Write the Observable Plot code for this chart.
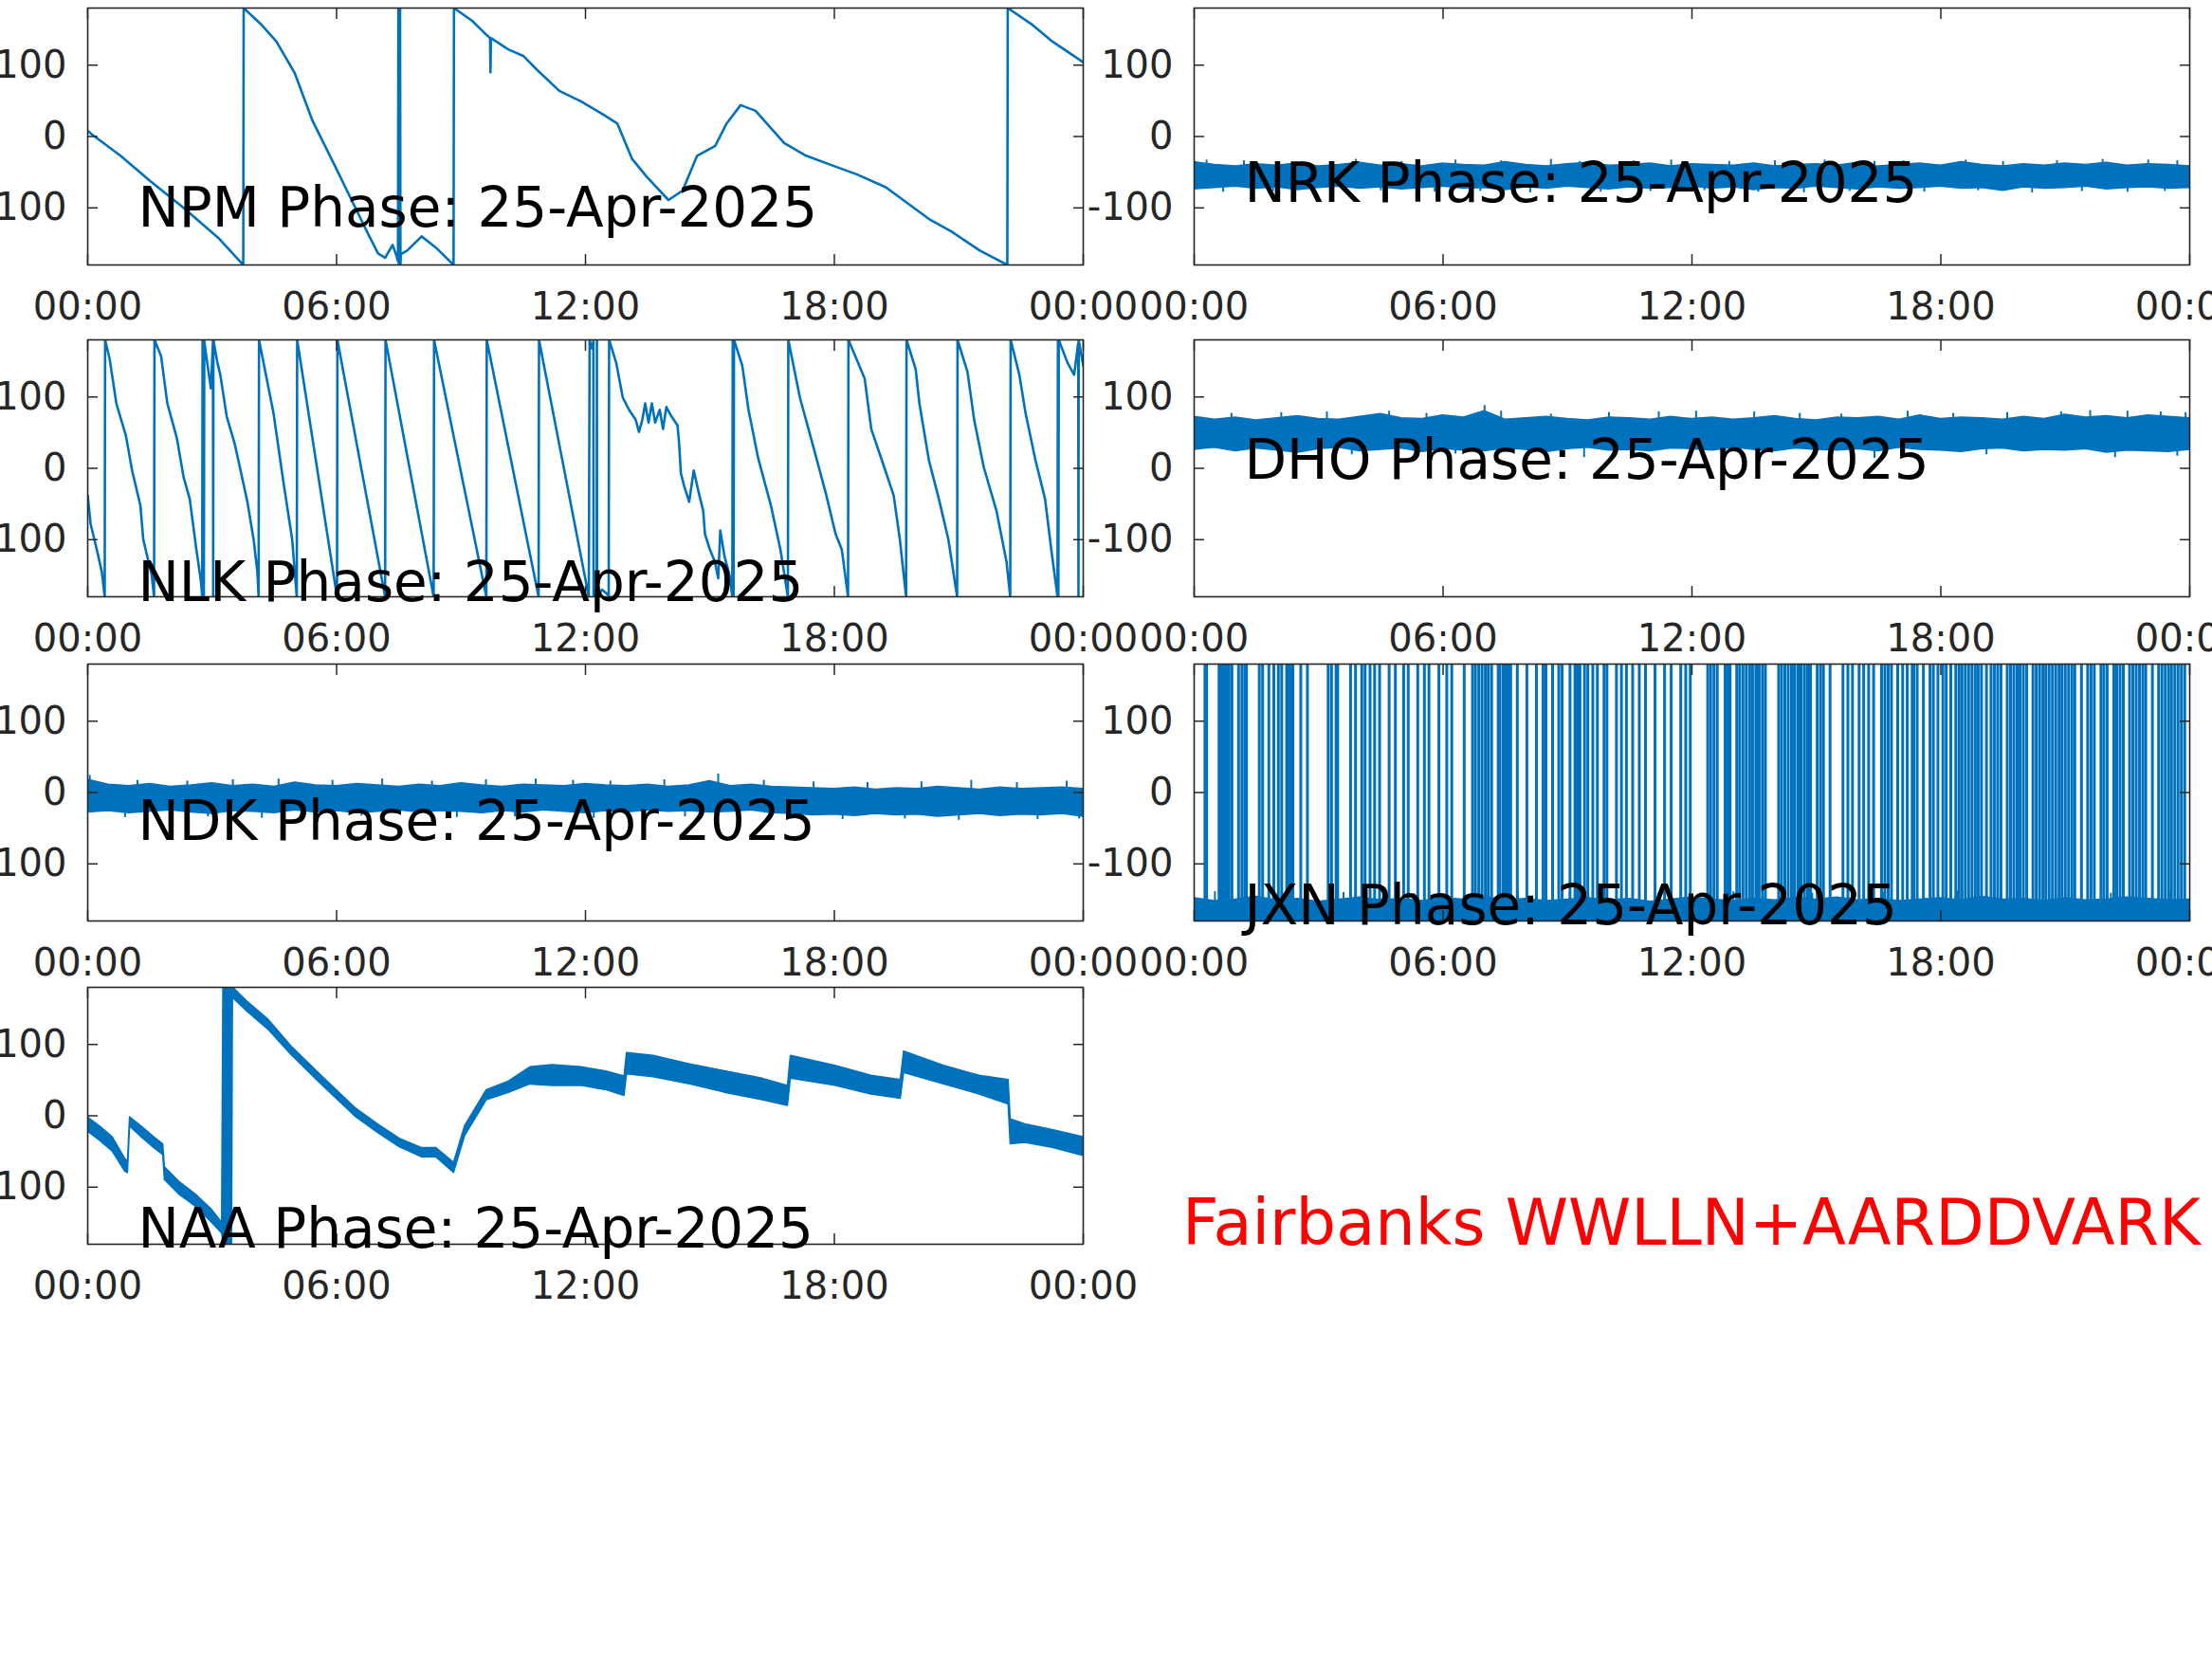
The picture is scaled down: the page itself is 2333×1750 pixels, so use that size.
<!DOCTYPE html>
<html><head><meta charset="utf-8">
<script src="https://cdn.jsdelivr.net/npm/d3@7"></script>
<script src="https://cdn.jsdelivr.net/npm/@observablehq/plot@0.6"></script>
<style>
html,body{margin:0;padding:0;background:#fff;width:2333px;height:1750px;overflow:hidden;position:relative;}
.panel{position:absolute;}
.panel svg{overflow:visible;display:block;}
#note{position:absolute;left:1247px;top:1257px;font-family:"DejaVu Sans";font-size:67px;line-height:66px;color:#ff0000;white-space:nowrap;}
</style></head><body>
<div id="note"></div>
<script>
// ---------------- data ----------------
const dateLabel = "25-Apr-2025";
const stations = ["NPM","NRK","NLK","DHO","NDK","JXN","NAA"];
const titleBaseline = [-126, -92, -186, -15, -67, -185, -184]; // degrees, where each caption sits
const titleHour = 1.21;
const noteText = "Fairbanks WWLLN+AARDDVARK";

const xTickValues = [0, 6, 12, 18, 24];
const xTickLabels = ["00:00","06:00","12:00","18:00","00:00"];
const yTickValues = [-100, 0, 100];

// NPM phase trace (hours UT, degrees)
const npmHour = [0,0.1,0.79,1.5,2.27,3.15,3.75,3.76,4.2,4.55,4.99,5.42,5.95,6.47,6.73,7.0,7.17,7.35,7.45,7.48,7.49,7.5,7.51,7.52,7.53,7.54,7.55,7.7,8.05,8.4,8.82,8.83,9.27,9.62,9.70,9.71,9.72,10.14,10.5,10.84,11.37,11.9,12.42,12.77,13.12,13.47,14.0,14.34,14.69,15.13,15.4,15.74,16.1,16.79,17.32,18.02,18.54,19.24,20.29,20.82,21.51,22.17,22.18,22.74,23.26,24];
const npmPhase = [8,3,-27,-62,-98,-142,-180,180,156,133,89,22,-40,-102,-133,-164,-170,-152,-168,-175,180,-180,180,-180,180,-178,-165,-160,-140,-156,-180,180,162,142,138,90,138,122,113,93,64,49,31,18,-31,-56,-89,-76,-27,-13,18,44,36,-9,-27,-42,-53,-71,-116,-133,-160,-180,180,158,133,104];

// NLK phase trace
const nlkHour = [0,0.07,0.22,0.34,0.41,0.42,0.53,0.69,0.92,1.07,1.27,1.34,1.54,1.60,1.61,1.77,1.92,2.15,2.31,2.46,2.62,2.73,2.76,2.77,2.79,2.80,2.81,2.90,2.97,3.02,3.025,3.03,3.12,3.2,3.35,3.55,3.7,3.85,4.0,4.09,4.12,4.13,4.48,4.70,4.93,5.04,5.05,6.01,6.02,7.17,7.18,8.34,8.35,9.61,9.62,10.87,10.88,12.08,12.10,12.15,12.19,12.195,12.23,12.27,12.275,12.28,12.40,12.56,12.57,12.74,12.9,13.05,13.21,13.29,13.37,13.44,13.52,13.6,13.68,13.79,13.87,13.95,14.07,14.22,14.26,14.3,14.38,14.5,14.61,14.73,14.84,14.88,15.0,15.12,15.2,15.25,15.35,15.47,15.54,15.55,15.57,15.58,15.78,15.93,16.16,16.47,16.7,16.88,16.89,17.17,17.48,17.79,18.03,18.18,18.33,18.34,18.73,18.89,19.2,19.43,19.58,19.73,19.74,19.96,20.05,20.28,20.52,20.75,20.96,20.97,21.21,21.37,21.6,21.91,22.15,22.24,22.25,22.46,22.61,22.85,23.08,23.23,23.38,23.39,23.40,23.41,23.62,23.78,23.88,23.885,23.89,23.95,24];
const nlkPhase = [-38,-78,-114,-145,-180,180,153,91,46,-3,-52,-100,-149,-180,180,157,91,42,-12,-43,-114,-158,-180,180,170,-180,178,140,112,178,-180,180,150,130,73,33,-7,-47,-100,-145,-180,180,77,-12,-100,-180,180,-180,180,-180,180,-180,180,-180,180,-180,180,-180,180,168,178,-180,-172,-178,180,-180,-170,-178,180,148,99,82,68,51,68,91,64,91,64,82,55,86,73,60,33,-7,-25,-47,-3,-34,-60,-92,-114,-131,-154,-87,-123,-149,-180,180,-180,180,144,82,15,-52,-114,-180,180,99,33,-34,-92,-114,-180,180,126,55,2,-38,-100,-180,180,139,91,11,-43,-100,-180,180,135,68,2,-60,-131,-180,180,131,77,11,-43,-114,-180,180,-180,180,148,131,176,-180,180,160,144];

// Noisy stations: half-hourly envelope (low / high) of the phase band
const bandHour = [0,0.5,1,1.5,2,2.5,3,3.5,4,4.5,5,5.5,6,6.5,7,7.5,8,8.5,9,9.5,10,10.5,11,11.5,12,12.5,13,13.5,14,14.5,15,15.5,16,16.5,17,17.5,18,18.5,19,19.5,20,20.5,21,21.5,22,22.5,23,23.5,24];
const nrkHi = [-36,-40,-42,-39,-41,-38,-42,-40,-37,-41,-39,-42,-38,-40,-41,-36,-40,-42,-39,-37,-41,-40,-38,-42,-39,-40,-41,-38,-42,-40,-39,-41,-37,-42,-40,-38,-41,-36,-40,-42,-39,-41,-38,-40,-37,-41,-39,-40,-42];
const nrkLo = [-74,-72,-70,-73,-71,-75,-72,-70,-73,-71,-74,-72,-70,-73,-72,-75,-71,-73,-70,-72,-74,-71,-73,-72,-70,-73,-71,-75,-72,-73,-70,-72,-74,-71,-73,-72,-70,-73,-72,-76,-71,-73,-72,-70,-74,-72,-71,-73,-72];
const dhoHi = [72,68,71,67,70,73,69,68,72,76,70,69,74,71,80,68,70,72,69,67,71,70,68,72,69,71,68,70,73,69,67,71,70,72,68,74,69,71,70,68,72,69,75,71,73,70,74,72,70];
const dhoLo = [26,29,24,28,25,22,27,29,24,26,28,23,27,25,24,28,26,23,27,29,25,26,24,28,27,25,29,26,24,28,26,25,27,24,29,26,25,23,27,28,24,26,25,27,22,25,24,23,26];
const ndkHi = [18,11,9,12,8,10,13,9,11,8,14,10,9,12,10,8,11,9,13,10,8,11,10,9,12,10,9,11,8,10,16,9,11,8,7,6,5,7,4,6,5,8,6,4,7,5,6,7,5];
const ndkLo = [-28,-26,-29,-27,-25,-28,-30,-26,-27,-29,-25,-28,-26,-29,-27,-25,-28,-26,-27,-29,-26,-28,-25,-27,-29,-26,-28,-25,-27,-26,-28,-27,-25,-29,-30,-32,-31,-33,-30,-32,-31,-34,-32,-30,-33,-31,-32,-30,-34];
const jxnHi = [-148,-152,-150,-146,-151,-149,-153,-150,-147,-151,-149,-152,-148,-150,-146,-151,-149,-152,-150,-148,-151,-149,-153,-150,-147,-150,-152,-149,-151,-148,-150,-147,-151,-149,-152,-150,-148,-151,-146,-150,-149,-152,-148,-151,-150,-147,-149,-151,-150];
const jxnLo = -180;

// Individual noise spikes sticking out of each band (hour, peak degrees)
const nrkSpikeHour = [0.3,0.7,1.2,1.9,2.6,3.3,3.9,4.5,5.0,5.8,6.3,6.9,7.4,8.1,8.6,9.3,9.8,10.6,11.0,11.5,12.3,12.9,13.6,14.0,14.7,15.2,15.8,16.4,17.1,17.6,18.6,18.9,19.5,20.2,20.8,21.4,21.9,22.5,23.0,23.4,23.7];
const nrkSpikePeak = [-33,-78,-34,-77,-35,-79,-32,-76,-35,-78,-33,-77,-34,-79,-32,-35,-78,-34,-77,-33,-76,-35,-78,-34,-79,-33,-77,-35,-34,-78,-33,-76,-35,-79,-34,-77,-32,-78,-33,-77,-34];
const dhoSpikeHour = [0.9,1.4,2.1,3.2,3.8,4.7,5.6,6.3,7.0,7.4,8.6,9.4,10.0,11.2,12.1,12.8,13.5,14.6,15.6,16.4,17.2,18.3,19.1,19.6,20.9,21.6,22.2,22.5,23.3,23.7,23.9];
const dhoSpikePeak = [77,16,78,79,19,80,77,20,88,80,76,15,78,79,80,18,79,77,76,14,80,77,19,78,79,81,15,80,79,17,78];
const ndkSpikeHour = [0.05,0.9,1.2,2.4,2.9,3.5,4.2,4.6,5.9,6.6,7.1,8.3,8.9,9.6,10.3,10.8,11.7,12.2,12.6,13.9,14.4,15.2,16.3,16.9,17.5,18.2,18.8,19.7,20.1,21.0,21.3,22.4,22.9,23.6,23.9];
const ndkSpikePeak = [24,-35,17,16,-34,18,-36,19,17,-33,19,16,-35,18,-34,19,17,-36,16,18,-34,26,17,-37,15,-38,14,-37,15,-39,17,14,-38,16,-37];
const jxnSpikeHour = [0.5,1.9,3.6,5.3,7.8,9.5,11.2,13.0,14.9,16.6,18.4,20.3,22.1,23.5];
const jxnSpikePeak = [-139,-141,-140,-142,-139,-141,-140,-139,-141,-140,-138,-140,-141,-139];

// JXN phase wraps (-180 -> +180), hours
const jxnWrapHour = [0.26,0.30,0.60,0.64,0.68,0.72,0.76,0.80,0.84,0.91,1.07,1.15,1.22,1.26,1.57,1.65,1.80,1.92,2.03,2.11,2.23,2.26,2.30,2.34,2.38,2.57,2.73,3.23,3.31,3.42,3.46,3.77,3.89,4.04,4.12,4.24,4.35,4.47,4.70,4.85,5.05,5.16,5.39,5.55,5.66,5.90,6.09,6.21,6.51,6.71,6.78,6.86,6.94,7.02,7.09,7.17,7.33,7.36,7.44,7.48,7.52,7.56,7.59,7.63,7.79,8.02,8.25,8.41,8.48,8.64,8.79,8.87,9.06,9.18,9.22,9.26,9.30,9.41,9.49,9.61,9.72,9.88,9.95,10.18,10.30,10.42,10.57,10.73,10.88,11.11,11.34,11.50,11.73,11.85,11.96,12.38,12.45,12.53,12.61,12.80,12.84,12.88,12.92,13.08,13.15,13.23,13.31,13.39,13.46,13.54,13.58,13.62,13.70,13.77,14.09,14.16,14.24,14.32,14.40,14.47,14.55,14.59,14.63,14.71,14.78,14.82,14.86,15.02,15.10,15.17,15.33,15.64,15.76,15.87,16.03,16.14,16.26,16.38,16.57,16.65,16.73,16.81,16.96,17.08,17.19,17.31,17.35,17.43,17.58,17.74,17.82,17.93,18.05,18.13,18.24,18.36,18.44,18.51,18.59,18.67,18.75,18.83,18.90,18.98,19.10,19.21,19.29,19.37,19.45,19.60,19.68,19.76,19.84,19.91,19.99,20.07,20.22,20.30,20.38,20.46,20.53,20.61,20.69,20.77,20.85,20.92,21.00,21.08,21.16,21.23,21.39,21.54,21.62,21.70,21.86,21.93,22.01,22.17,22.24,22.32,22.40,22.55,22.63,22.71,22.79,22.87,22.94,23.10,23.25,23.33,23.41,23.49,23.56,23.64,23.72,23.80,23.88];

// NAA phase band (irregular sampling)
const naaHour = [0,0.3,0.6,0.9,0.97,1.02,1.3,1.6,1.82,1.86,2.2,2.6,3.0,3.24,3.27,3.48,3.5,3.85,4.37,4.9,5.6,6.47,7.0,7.52,8.05,8.4,8.83,9.1,9.62,10.15,10.67,11.2,11.9,12.5,12.94,13.0,13.64,14.52,15.39,16.27,16.88,16.95,18.02,18.89,19.6,19.68,20.64,21.5,22.2,22.25,22.6,23.26,24];
const naaLo = [-22,-35,-50,-78,-80,-15,-30,-45,-55,-90,-110,-127,-150,-165,-180,-180,165,146,120,86,46,-2,-24,-44,-58,-58,-80,-28,22,32,44,42,42,36,28,58,54,44,32,22,14,52,42,30,24,60,44,30,16,-40,-38,-45,-56];
const naaHi = [-2,-15,-30,-60,-65,-2,-15,-30,-40,-72,-92,-110,-132,-150,180,180,180,160,134,98,58,10,-12,-32,-45,-45,-66,-14,36,48,68,71,68,62,55,88,84,72,62,52,42,84,70,56,50,90,70,56,50,-5,-12,-20,-30];

// ---------------- drawing ----------------
const BLUE = "#0072BD";
const AX = "#262626";
const PW = 1050, PH = 271;
const M = {left: 100, right: 10, top: 10, bottom: 80};
const colLeft = [91.8, 1258.8];
const rowTop = [8.3, 358.3, 700, 1041];

const lineRows = (hs, ps) => hs.map((h, i) => ({h, p: ps[i]}));
const bandRows = (hs, lo, hi) => hs.map((h, i) => ({h, lo: Array.isArray(lo) ? lo[i] : lo, hi: hi[i]}));
const spikeRows = (hs, ps, lo, hi) => hs.map((h, i) => {
  // spike starts from the band interior nearest to it
  const j = Math.round(h * 2);
  const l = Array.isArray(lo) ? lo[j] : lo, u = hi[j];
  return {h, from: (l + u) / 2, to: ps[i]};
});

const lineMark = rows => Plot.line(rows, {x: "h", y: "p", stroke: BLUE, strokeWidth: 2.6, strokeLinejoin: "round", clip: true});
const bandMark = rows => Plot.areaY(rows, {x: "h", y1: "lo", y2: "hi", fill: BLUE, stroke: BLUE, strokeWidth: 1.5, strokeLinejoin: "round", clip: true});
const spikeMark = rows => Plot.ruleX(rows, {x: "h", y1: "from", y2: "to", stroke: BLUE, strokeWidth: 2, clip: true});

const dataMarks = {
  NPM: [lineMark(lineRows(npmHour, npmPhase))],
  NRK: [bandMark(bandRows(bandHour, nrkLo, nrkHi)), spikeMark(spikeRows(nrkSpikeHour, nrkSpikePeak, nrkLo, nrkHi))],
  NLK: [lineMark(lineRows(nlkHour, nlkPhase))],
  DHO: [bandMark(bandRows(bandHour, dhoLo, dhoHi)), spikeMark(spikeRows(dhoSpikeHour, dhoSpikePeak, dhoLo, dhoHi))],
  NDK: [bandMark(bandRows(bandHour, ndkLo, ndkHi)), spikeMark(spikeRows(ndkSpikeHour, ndkSpikePeak, ndkLo, ndkHi))],
  JXN: [bandMark(bandRows(bandHour, jxnLo, jxnHi)), spikeMark(spikeRows(jxnSpikeHour, jxnSpikePeak, jxnLo, jxnHi)),
        Plot.ruleX(jxnWrapHour, {x: d => d, y1: -165, y2: 180, stroke: BLUE, strokeWidth: 3, clip: true})],
  NAA: [bandMark(bandRows(naaHour, naaLo, naaHi))]
};

stations.forEach((name, i) => {
  const col = i % 2, row = Math.floor(i / 2);
  const chart = Plot.plot({
    width: PW + M.left + M.right,
    height: PH + M.top + M.bottom,
    marginLeft: M.left, marginRight: M.right, marginTop: M.top, marginBottom: M.bottom,
    x: {domain: [0, 24]},
    y: {domain: [-180, 180]},
    style: {fontFamily: "DejaVu Sans", fontSize: "40px", color: AX, background: "transparent", overflow: "visible"},
    marks: [
      ...dataMarks[name],
      Plot.axisX(xTickValues, {anchor: "bottom", tickSize: -11, fill: "none", label: null, strokeWidth: 1.5}),
      Plot.axisX(xTickValues, {anchor: "top", tickSize: -11, fill: "none", label: null, strokeWidth: 1.5}),
      Plot.axisX(xTickValues, {anchor: "bottom", tickSize: 0, tickPadding: 29, label: null,
        tickFormat: d => xTickLabels[xTickValues.indexOf(d)]}),
      Plot.axisY(yTickValues, {anchor: "left", tickSize: -11, fill: "none", label: null, strokeWidth: 1.5}),
      Plot.axisY(yTickValues, {anchor: "right", tickSize: -11, fill: "none", label: null, strokeWidth: 1.5}),
      Plot.axisY(yTickValues, {anchor: "left", tickSize: 0, tickPadding: 22, label: null, tickFormat: d => String(d)}),
      Plot.frame({stroke: AX, strokeWidth: 1.6}),
      Plot.text([`${name} Phase: ${dateLabel}`], {x: titleHour, y: titleBaseline[i], text: d => d,
        textAnchor: "start", lineAnchor: "bottom", fontSize: 58, fill: "#000"})
    ]
  });
  const div = document.createElement("div");
  div.className = "panel";
  div.style.left = (colLeft[col] - M.left) + "px";
  div.style.top = (rowTop[row] - M.top) + "px";
  div.appendChild(chart);
  document.body.appendChild(div);
});
document.getElementById("note").textContent = noteText;
</script>
</body></html>
